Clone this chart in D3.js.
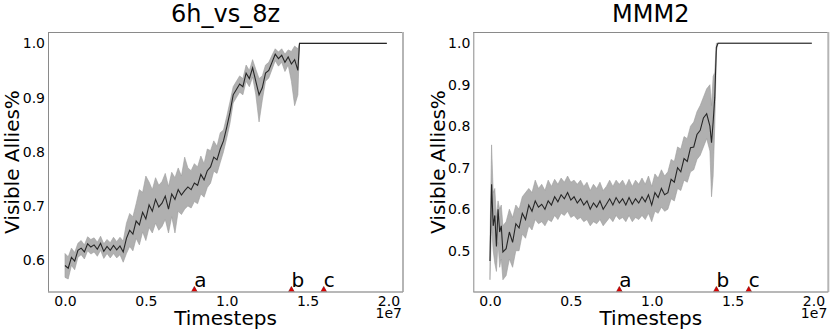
<!DOCTYPE html>
<html>
<head>
<meta charset="utf-8">
<script src="https://cdn.jsdelivr.net/npm/d3@7"></script>
<style>
  body { margin: 0; background: #fff; }
  svg text { font-family: "DejaVu Sans", sans-serif; fill: #000; }
</style>
</head>
<body>
<svg id="chart" width="831" height="332"></svg>
<script>
// ---- data (timesteps, mean, lower / upper band) ----
const leftSteps = [0, 0.02e7, 0.04e7, 0.06e7, 0.08e7, 0.10e7, 0.12e7, 0.14e7, 0.16e7, 0.18e7,
  0.20e7, 0.22e7, 0.24e7, 0.26e7, 0.28e7, 0.30e7, 0.32e7, 0.34e7, 0.36e7, 0.38e7,
  0.40e7, 0.42e7, 0.44e7, 0.46e7, 0.48e7, 0.50e7, 0.52e7, 0.54e7, 0.56e7, 0.58e7,
  0.60e7, 0.62e7, 0.64e7, 0.66e7, 0.68e7, 0.70e7, 0.72e7, 0.74e7, 0.76e7, 0.78e7,
  0.80e7, 0.82e7, 0.84e7, 0.86e7, 0.88e7, 0.90e7, 0.92e7, 0.94e7, 0.96e7, 0.98e7,
  1.00e7, 1.02e7, 1.04e7, 1.06e7, 1.08e7, 1.10e7, 1.12e7, 1.14e7, 1.16e7, 1.18e7,
  1.20e7, 1.22e7, 1.24e7, 1.26e7, 1.28e7, 1.30e7, 1.32e7, 1.34e7, 1.36e7, 1.38e7,
  1.40e7, 1.42e7, 1.44e7, 1.45e7, 1.99e7];
const leftMean = [0.590, 0.585, 0.605, 0.598, 0.618, 0.622, 0.615, 0.630, 0.624, 0.628,
  0.620, 0.631, 0.616, 0.625, 0.618, 0.627, 0.619, 0.626, 0.615, 0.640,
  0.655, 0.648, 0.672, 0.665, 0.688, 0.676, 0.702, 0.690, 0.712, 0.698,
  0.705, 0.718, 0.694, 0.722, 0.712, 0.730, 0.720, 0.728, 0.735, 0.730,
  0.742, 0.738, 0.758, 0.748, 0.765, 0.772, 0.790, 0.785, 0.805, 0.820,
  0.845, 0.872, 0.905, 0.915, 0.925, 0.920, 0.945, 0.935, 0.955, 0.930,
  0.905, 0.918, 0.945, 0.950, 0.965, 0.980, 0.972, 0.978, 0.965, 0.975,
  0.962, 0.970, 0.950, 1.000, 1.000];
const leftLower = [0.568, 0.565, 0.590, 0.582, 0.605, 0.610, 0.602, 0.617, 0.611, 0.615,
  0.607, 0.618, 0.603, 0.612, 0.604, 0.612, 0.604, 0.610, 0.596, 0.612,
  0.625, 0.617, 0.640, 0.628, 0.652, 0.636, 0.660, 0.650, 0.668, 0.655,
  0.662, 0.675, 0.650, 0.680, 0.650, 0.690, 0.684, 0.694, 0.700, 0.696,
  0.708, 0.704, 0.722, 0.716, 0.734, 0.742, 0.764, 0.760, 0.780, 0.800,
  0.825, 0.852, 0.890, 0.900, 0.910, 0.905, 0.930, 0.920, 0.938, 0.905,
  0.855, 0.895, 0.930, 0.936, 0.952, 0.968, 0.958, 0.965, 0.948, 0.960,
  0.930, 0.885, 0.905, 1.000, 1.000];
const leftUpper = [0.612, 0.606, 0.622, 0.614, 0.631, 0.636, 0.628, 0.643, 0.638, 0.641,
  0.633, 0.644, 0.630, 0.638, 0.632, 0.642, 0.634, 0.642, 0.635, 0.668,
  0.686, 0.680, 0.704, 0.730, 0.725, 0.755, 0.744, 0.730, 0.752, 0.738,
  0.745, 0.760, 0.736, 0.762, 0.752, 0.770, 0.755, 0.790, 0.770, 0.765,
  0.778, 0.772, 0.792, 0.778, 0.805, 0.802, 0.820, 0.810, 0.835, 0.840,
  0.865, 0.892, 0.920, 0.930, 0.940, 0.935, 0.960, 0.950, 0.970, 0.952,
  0.935, 0.940, 0.960, 0.965, 0.978, 0.990, 0.984, 0.990, 0.980, 0.988,
  0.985, 0.995, 0.990, 1.000, 1.000];

const rightSteps = [0, 0.01e7, 0.02e7, 0.03e7, 0.04e7, 0.05e7, 0.06e7, 0.07e7, 0.08e7, 0.10e7,
  0.12e7, 0.14e7, 0.16e7, 0.18e7, 0.20e7, 0.22e7, 0.24e7, 0.26e7, 0.28e7, 0.30e7,
  0.32e7, 0.34e7, 0.36e7, 0.38e7, 0.40e7, 0.42e7, 0.44e7, 0.46e7, 0.48e7, 0.50e7,
  0.52e7, 0.54e7, 0.56e7, 0.58e7, 0.60e7, 0.62e7, 0.64e7, 0.66e7, 0.68e7, 0.70e7,
  0.72e7, 0.74e7, 0.76e7, 0.78e7, 0.80e7, 0.82e7, 0.84e7, 0.86e7, 0.88e7, 0.90e7,
  0.92e7, 0.94e7, 0.96e7, 0.98e7, 1.00e7, 1.02e7, 1.04e7, 1.06e7, 1.08e7, 1.10e7,
  1.12e7, 1.14e7, 1.16e7, 1.18e7, 1.20e7, 1.22e7, 1.24e7, 1.26e7, 1.28e7, 1.30e7,
  1.32e7, 1.34e7, 1.36e7, 1.37e7, 1.38e7, 1.39e7, 1.40e7, 1.41e7, 1.99e7];
const rightMean = [0.475, 0.660, 0.560, 0.585, 0.510, 0.600, 0.545, 0.560, 0.497, 0.505,
  0.545, 0.520, 0.565, 0.555, 0.590, 0.575, 0.610, 0.595, 0.620, 0.605,
  0.612, 0.600, 0.620, 0.610, 0.630, 0.618, 0.635, 0.625, 0.640, 0.622,
  0.630, 0.615, 0.625, 0.610, 0.620, 0.600, 0.615, 0.605, 0.620, 0.600,
  0.612, 0.625, 0.610, 0.628, 0.615, 0.625, 0.610, 0.628, 0.612, 0.625,
  0.615, 0.630, 0.618, 0.635, 0.610, 0.640, 0.628, 0.650, 0.635, 0.640,
  0.672, 0.665, 0.700, 0.690, 0.722, 0.715, 0.748, 0.750, 0.780, 0.790,
  0.820, 0.830, 0.800, 0.760, 0.810, 0.870, 0.990, 1.000, 1.000];
const rightLower = [0.430, 0.560, 0.500, 0.470, 0.450, 0.520, 0.460, 0.480, 0.430, 0.440,
  0.480, 0.460, 0.500, 0.500, 0.540, 0.530, 0.560, 0.550, 0.575, 0.565,
  0.570, 0.560, 0.575, 0.570, 0.585, 0.575, 0.590, 0.585, 0.595, 0.580,
  0.585, 0.575, 0.580, 0.570, 0.575, 0.560, 0.570, 0.565, 0.575, 0.560,
  0.570, 0.580, 0.570, 0.585, 0.575, 0.580, 0.570, 0.585, 0.570, 0.580,
  0.575, 0.585, 0.575, 0.590, 0.570, 0.595, 0.590, 0.605, 0.595, 0.600,
  0.625, 0.620, 0.650, 0.645, 0.670, 0.665, 0.690, 0.695, 0.720, 0.730,
  0.750, 0.770, 0.740, 0.630, 0.680, 0.800, 0.980, 1.000, 1.000];
const rightUpper = [0.520, 0.755, 0.640, 0.650, 0.580, 0.620, 0.600, 0.610, 0.560, 0.570,
  0.600, 0.580, 0.610, 0.600, 0.630, 0.640, 0.650, 0.640, 0.670, 0.650,
  0.660, 0.645, 0.670, 0.655, 0.672, 0.660, 0.675, 0.665, 0.680, 0.665,
  0.670, 0.660, 0.670, 0.655, 0.665, 0.645, 0.660, 0.650, 0.665, 0.645,
  0.655, 0.670, 0.655, 0.670, 0.660, 0.670, 0.655, 0.672, 0.655, 0.670,
  0.660, 0.675, 0.660, 0.680, 0.655, 0.685, 0.675, 0.695, 0.680, 0.690,
  0.720, 0.715, 0.750, 0.745, 0.775, 0.770, 0.800, 0.810, 0.835, 0.850,
  0.870, 0.890, 0.900, 0.850, 0.920, 0.930, 1.000, 1.000, 1.000];

const xTicks = [0, 0.5e7, 1.0e7, 1.5e7, 2.0e7];
const xTickLabels = ["0.0", "0.5", "1.0", "1.5", "2.0"];
const leftYTicks = [0.6, 0.7, 0.8, 0.9, 1.0];
const rightYTicks = [0.5, 0.6, 0.7, 0.8, 0.9, 1.0];
const markerSteps = [0.8e7, 1.4e7, 1.6e7];
const markerLabels = ["a", "b", "c"];

const svg = d3.select("#chart");

function drawPanel(opts) {
  const { title, steps, mean, lower, upper, yTicks, xDomain, yDomain, left, right, ylabelX } = opts;
  const top = 32, bottom = 292;

  const x = d3.scaleLinear().domain(xDomain).range([left, right]);
  const y = d3.scaleLinear().domain(yDomain).range([bottom, top]);

  const rows = steps.map((t, i) => ({ t, m: mean[i], lo: lower[i], hi: upper[i] }));

  const g = svg.append("g");
  const clipId = "clip-" + title.replace(/\W/g, "");
  g.append("clipPath").attr("id", clipId)
    .append("rect").attr("x", left).attr("y", top).attr("width", right - left).attr("height", bottom - top);

  const plot = g.append("g").attr("clip-path", `url(#${clipId})`);

  plot.append("path")
    .datum(rows)
    .attr("d", d3.area().x(d => x(d.t)).y0(d => y(d.lo)).y1(d => y(d.hi)))
    .attr("fill", "#b0b0b0")
    .attr("stroke", "#9c9c9c")
    .attr("stroke-width", 0.6);

  plot.append("path")
    .datum(rows)
    .attr("d", d3.line().x(d => x(d.t)).y(d => y(d.m)))
    .attr("fill", "none")
    .attr("stroke", "#262626")
    .attr("stroke-width", 1.1);

  // event markers
  plot.selectAll(".marker")
    .data(markerSteps)
    .enter()
    .append("path")
    .attr("d", d => {
      const cx = x(d), by = y(yDomain[0]);
      return `M${cx - 3},${by} L${cx + 3},${by} L${cx},${by - 5.5} Z`;
    })
    .attr("fill", "#e00000")
    .attr("stroke", "#700000")
    .attr("stroke-width", 0.6);

  g.selectAll(".mlabel")
    .data(markerSteps)
    .enter()
    .append("text")
    .attr("x", d => x(d))
    .attr("y", y(yDomain[0]) - 5)
    .style("font-size", "20px")
    .text((d, i) => markerLabels[i]);

  // frame
  g.append("line").attr("x1", left).attr("x2", right).attr("y1", top + 0.5).attr("y2", top + 0.5)
    .attr("stroke", "#8a8a8a").attr("stroke-width", 1);
  g.append("line").attr("x1", left + 0.5).attr("x2", left + 0.5).attr("y1", top).attr("y2", bottom)
    .attr("stroke", "#8a8a8a").attr("stroke-width", 1);
  g.append("line").attr("x1", right).attr("x2", right).attr("y1", top).attr("y2", bottom)
    .attr("stroke", "#b5b5b5").attr("stroke-width", 2);
  g.append("line").attr("x1", left).attr("x2", right).attr("y1", bottom).attr("y2", bottom)
    .attr("stroke", "#a0a0a0").attr("stroke-width", 1.5);

  // axes
  const xAxis = g.append("g")
    .attr("transform", `translate(0,${bottom})`)
    .call(d3.axisBottom(x).tickValues(xTicks).tickSize(0).tickPadding(4)
      .tickFormat((d, i) => xTickLabels[i]));
  xAxis.select(".domain").remove();
  xAxis.selectAll("text").style("font-size", "14px").style("font-family", "DejaVu Sans").attr("fill", "#000");

  const yAxis = g.append("g")
    .attr("transform", `translate(${left},0)`)
    .call(d3.axisLeft(y).tickValues(yTicks).tickSize(0).tickPadding(3).tickFormat(d3.format(".1f")));
  yAxis.select(".domain").remove();
  yAxis.selectAll("text").style("font-size", "14px").style("font-family", "DejaVu Sans").attr("fill", "#000");

  // offset text
  g.append("text")
    .attr("x", right - 1)
    .attr("y", 318)
    .attr("text-anchor", "end")
    .style("font-size", "14px")
    .text("1e7");

  g.append("text")
    .attr("x", (left + right) / 2)
    .attr("y", 325)
    .attr("text-anchor", "middle")
    .style("font-size", "20px")
    .text("Timesteps");

  g.append("text")
    .attr("transform", `translate(${ylabelX},${(top + bottom) / 2}) rotate(-90)`)
    .attr("text-anchor", "middle")
    .style("font-size", "20px")
    .text("Visible Allies%");

  g.append("text")
    .attr("x", (left + right) / 2)
    .attr("y", 22)
    .attr("text-anchor", "middle")
    .style("font-size", "24px")
    .text(title);
}

drawPanel({
  title: "6h_vs_8z", steps: leftSteps, mean: leftMean, lower: leftLower, upper: leftUpper,
  yTicks: leftYTicks, xDomain: [-0.105e7, 2.09e7], yDomain: [0.541, 1.021],
  left: 48, right: 403, ylabelX: 18.5
});

drawPanel({
  title: "MMM2", steps: rightSteps, mean: rightMean, lower: rightLower, upper: rightUpper,
  yTicks: rightYTicks, xDomain: [-0.103e7, 2.092e7], yDomain: [0.4005, 1.027],
  left: 473.3, right: 828.3, ylabelX: 445
});
</script>
</body>
</html>
